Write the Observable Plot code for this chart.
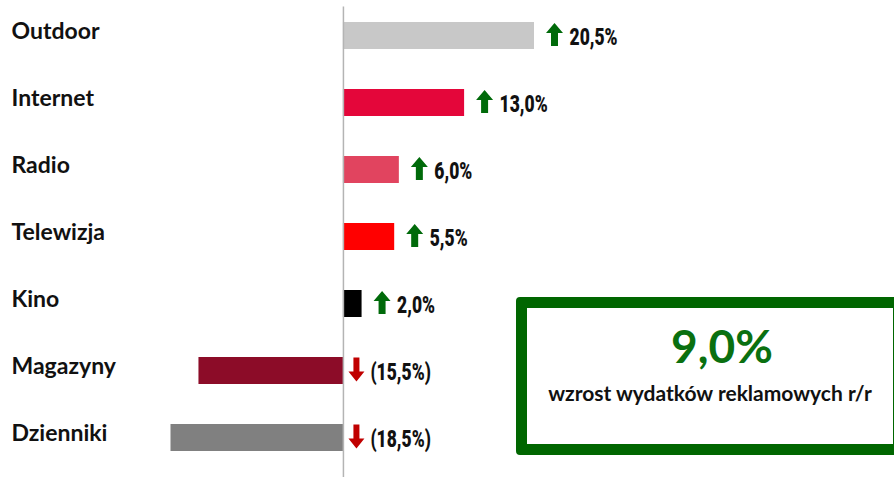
<!DOCTYPE html>
<html>
<head>
<meta charset="utf-8">
<script src="https://cdn.jsdelivr.net/npm/d3@7"></script>
<script src="https://cdn.jsdelivr.net/npm/@observablehq/plot@0.6"></script>
<style>
  html, body { margin: 0; padding: 0; background: #fff; overflow: hidden; }
  #wrap { position: relative; width: 894px; height: 477px; overflow: hidden; }
  #box { position: absolute; left: 516px; top: 297px; width: 366px; height: 136px;
         border: 11px solid #006600; border-radius: 4px; background: #fff; }
  .big { position: absolute; left: 516px; width: 412px; top: 318px; text-align: center;
         font-family: Lato, sans-serif; font-weight: bold; font-size: 46px; color: #0a7010; line-height: 56px; }
  .sub { position: absolute; left: 516px; width: 388px; top: 381px; text-align: center;
         font-family: Lato, sans-serif; font-weight: bold; font-size: 21px; color: #111; line-height: 24px; }
</style>
</head>
<body>
<div id="wrap">
  <div id="chart"></div>
  <div id="box"></div>
  <div class="big">9,0%</div>
  <div class="sub">wzrost wydatków reklamowych r/r</div>
</div>
<script>
const categories = ["Outdoor", "Internet", "Radio", "Telewizja", "Kino", "Magazyny", "Dzienniki"];
const values = [20.5, 13.0, 6.0, 5.5, 2.0, -15.5, -18.5];
const colors = ["#c8c8c8", "#e4063a", "#e1445f", "#ff0000", "#000000", "#8c0c28", "#808080"];

const data = categories.map((c, i) => ({category: c, value: values[i], color: colors[i]}));
const fmt = v => {
  const s = Math.abs(v).toFixed(1).replace(".", ",") + "%";
  return v < 0 ? "(" + s + ")" : s;
};

const upArrow = {
  draw(ctx) {
    ctx.moveTo(0, -11.5);
    ctx.lineTo(8.5, -1.5);
    ctx.lineTo(3.5, -1.5);
    ctx.lineTo(3.5, 11.5);
    ctx.lineTo(-3.5, 11.5);
    ctx.lineTo(-3.5, -1.5);
    ctx.lineTo(-8.5, -1.5);
    ctx.closePath();
  }
};
const downArrow = {
  draw(ctx) {
    ctx.moveTo(0, 12);
    ctx.lineTo(8, 2);
    ctx.lineTo(3, 2);
    ctx.lineTo(3, -12);
    ctx.lineTo(-3, -12);
    ctx.lineTo(-3, 2);
    ctx.lineTo(-8, 2);
    ctx.closePath();
  }
};

const pos = data.filter(d => d.value >= 0);
const neg = data.filter(d => d.value < 0);
const valueFont = "Roboto, 'DejaVu Sans', sans-serif";

const chart = Plot.plot({
  width: 894,
  height: 477,
  marginTop: 6.5,
  marginBottom: 11.5,
  marginLeft: 170.5,
  marginRight: 360,
  style: {background: "#fff"},
  x: {domain: [-18.5, 20.5], axis: null},
  y: {domain: categories, axis: null, paddingInner: 0.6, paddingOuter: 0.2},
  marks: [
    Plot.barX(data, {x: "value", y: "category", fill: "color"}),
    Plot.ruleX([0], {stroke: "#b4b4b4", strokeWidth: 1.5, insetBottom: -12}),
    Plot.text(data, {
      y: "category", text: "category", frameAnchor: "left", textAnchor: "start",
      dx: -159.5, dy: -4, fontFamily: "Lato, sans-serif", fontWeight: "bold", fontSize: 23, fill: "#111"
    }),
    Plot.dot(pos, {x: "value", y: "category", symbol: upArrow, fill: "#006a0a", stroke: "none", dx: 20, dy: -1.5}),
    Plot.dot(neg, {x: () => 0, y: "category", symbol: downArrow, fill: "#c00000", stroke: "none", dx: 13, dy: -1.5}),
    Plot.text(pos, {
      x: "value", y: "category", text: d => fmt(d.value), textAnchor: "start", dx: 35, dy: 2,
      fontFamily: valueFont, fontWeight: 900, fontSize: 23, fill: "#111", ariaLabel: () => "vlabel"
    }),
    Plot.text(neg, {
      x: () => 0, y: "category", text: d => fmt(d.value), textAnchor: "start", dx: 27, dy: 2,
      fontFamily: valueFont, fontWeight: 900, fontSize: 23, fill: "#111", ariaLabel: () => "vlabel"
    })
  ]
});
document.getElementById("chart").appendChild(chart);

// condense the value labels horizontally (narrow display face is not installed)
d3.select(chart).selectAll("text[aria-label='vlabel']").each(function() {
  const L = this.getComputedTextLength();
  if (L > 0) {
    this.setAttribute("textLength", (L * 0.76).toFixed(2));
    this.setAttribute("lengthAdjust", "spacingAndGlyphs");
  }
});
</script>
</body>
</html>
